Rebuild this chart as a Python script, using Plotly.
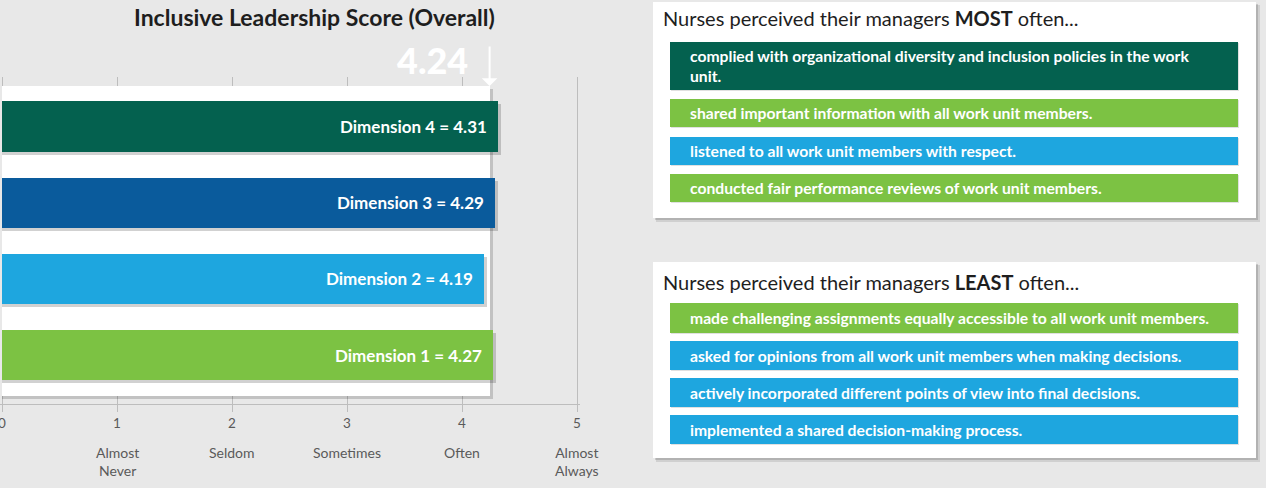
import plotly.graph_objects as go

# ---------------- data ----------------
categories = ["Dimension 1", "Dimension 2", "Dimension 3", "Dimension 4"]
scores = [4.27, 4.19, 4.29, 4.31]
overall_score = 4.24
tick_values = [0, 1, 2, 3, 4, 5]
scale_labels = ["", "Almost<br>Never", "Seldom", "Sometimes", "Often", "Almost<br>Always"]
chart_title = "Inclusive Leadership Score (Overall)"

most_header = "Nurses perceived their managers <b>MOST</b> often..."
most_items = [
    "complied with organizational diversity and inclusion policies in the work<br>unit.",
    "shared important information with all work unit members.",
    "listened to all work unit members with respect.",
    "conducted fair performance reviews of work unit members.",
]
least_header = "Nurses perceived their managers <b>LEAST</b> often..."
least_items = [
    "made challenging assignments equally accessible to all work unit members.",
    "asked for opinions from all work unit members when making decisions.",
    "actively incorporated different points of view into final decisions.",
    "implemented a shared decision-making process.",
]

# ---------------- styles ----------------
DARK_GREEN = "#04614F"
DARK_BLUE = "#0A5B9C"
LIGHT_BLUE = "#1EA6DF"
GREEN = "#7CC243"
BG = "#E8E8E8"
bar_colors = [GREEN, LIGHT_BLUE, DARK_BLUE, DARK_GREEN]
most_colors = [DARK_GREEN, GREEN, LIGHT_BLUE, GREEN]
least_colors = [GREEN, LIGHT_BLUE, LIGHT_BLUE, LIGHT_BLUE]
FONT = "Lato"

W, H = 1266, 488


def px(x):
    return x / W


def py(y):
    return 1 - y / H


# axis geometry (pixels per unit)
XU = 115.0
YU = 76.17
x0 = -2 / XU
xrange = [x0, x0 + 580 / XU]
yrange = [-0.643, 3.65]

ypos = list(range(len(categories)))
mid = (len(categories) - 1) / 2
bar_w = 0.66
overall_w = 4.07

fig = go.Figure()

# overall score (white backdrop bar) with shadow
fig.add_trace(go.Bar(
    x=[overall_score + 3 / XU], y=[mid - 3 / YU], width=[overall_w], orientation="h",
    marker=dict(color="rgba(0,0,0,0.16)", line=dict(width=0)), hoverinfo="skip", showlegend=False))
fig.add_trace(go.Bar(
    x=[overall_score], y=[mid], width=[overall_w], orientation="h",
    marker=dict(color="white", line=dict(width=0)), name="Overall", showlegend=False))

# dimension bars with shadows
fig.add_trace(go.Bar(
    x=[s + 3 / XU for s in scores], y=[p - 3 / YU for p in ypos], width=bar_w, orientation="h",
    marker=dict(color="rgba(0,0,0,0.18)", line=dict(width=0)), hoverinfo="skip", showlegend=False))
fig.add_trace(go.Bar(
    x=scores, y=ypos, width=bar_w, orientation="h",
    marker=dict(color=bar_colors, line=dict(width=0)),
    customdata=categories, hovertemplate="%{customdata} = %{x}<extra></extra>", showlegend=False))

annotations = []
for c, s, p in zip(categories, scores, ypos):
    annotations.append(dict(
        x=s, y=p, xref="x", yref="y", text=f"{c} = {s:.2f}", showarrow=False,
        xanchor="right", yanchor="middle", xshift=-9,
        font=dict(family=FONT, size=17, color="white", weight="bold")))

for v, lab in zip(tick_values, scale_labels):
    if lab:
        annotations.append(dict(
            x=v, y=py(442), xref="x", yref="paper", text=lab, showarrow=False,
            xanchor="center", yanchor="top",
            font=dict(family=FONT, size=14, color="#5A5A5A")))

# title
annotations.append(dict(
    x=px(314), y=py(17), xref="paper", yref="paper", text=chart_title,
    showarrow=False, xanchor="center", yanchor="middle",
    font=dict(family=FONT, size=23, color="#1E1E1E", weight="bold")))

# overall value + arrow
annotations.append(dict(
    x=overall_score, y=py(60), xref="x", yref="paper", text=f"{overall_score:.2f}",
    showarrow=False, xanchor="right", yanchor="middle", xshift=-20,
    font=dict(family=FONT, size=36, color="white", weight=900)))
annotations.append(dict(
    x=overall_score, y=py(86), xref="x", yref="paper", text="",
    showarrow=True, ax=0, ay=-41, axref="pixel", ayref="pixel",
    arrowcolor="white", arrowwidth=2, arrowhead=1, arrowsize=1.3))

shapes = []


def panel(top, bottom, header, header_y, items, colors, item_bounds):
    # shadow
    shapes.append(dict(type="rect", xref="paper", yref="paper",
                       x0=px(656), x1=px(1260), y0=py(bottom + 4), y1=py(top + 3),
                       fillcolor="rgba(0,0,0,0.10)", line=dict(width=0), layer="below"))
    shapes.append(dict(type="rect", xref="paper", yref="paper",
                       x0=px(655), x1=px(1258), y0=py(bottom + 2), y1=py(top + 2),
                       fillcolor="rgba(0,0,0,0.14)", line=dict(width=0), layer="below"))
    shapes.append(dict(type="rect", xref="paper", yref="paper",
                       x0=px(653), x1=px(1256), y0=py(bottom), y1=py(top),
                       fillcolor="white", line=dict(width=0), layer="below"))
    annotations.append(dict(
        x=px(661), y=py(header_y), xref="paper", yref="paper", text=header, showarrow=False,
        xanchor="left", yanchor="middle", font=dict(family=FONT, size=20, color="#1E1E1E")))
    for txt, col, (t, b) in zip(items, colors, item_bounds):
        shapes.append(dict(type="rect", xref="paper", yref="paper",
                           x0=px(671), x1=px(1239), y0=py(b + 1), y1=py(t + 1),
                           fillcolor="rgba(0,0,0,0.12)", line=dict(width=0), layer="below"))
        shapes.append(dict(type="rect", xref="paper", yref="paper",
                           x0=px(670), x1=px(1238), y0=py(b), y1=py(t),
                           fillcolor=col, line=dict(width=0), layer="below"))
        annotations.append(dict(
            x=px(688), y=py((t + b) / 2), xref="paper", yref="paper", text=txt,
            showarrow=False, xanchor="left", yanchor="middle", align="left",
            font=dict(family=FONT, size=15.7, color="white", weight="bold")))


panel(2, 218, most_header, 18, most_items, most_colors,
      [(42, 90), (99, 127), (137, 165), (174, 202)])
panel(262, 458, least_header, 282, least_items, least_colors,
      [(303, 333), (341, 370), (378, 407), (415, 444)])

fig.update_layout(
    width=W, height=H, margin=dict(l=0, r=0, t=0, b=0, autoexpand=False),
    paper_bgcolor=BG, plot_bgcolor="rgba(0,0,0,0)",
    barmode="overlay", bargap=0,
    xaxis=dict(domain=[0, px(580)], range=xrange, tickvals=tick_values, automargin=False,
               showgrid=True, gridcolor="#BDBDBD", gridwidth=1, zeroline=False,
               showline=True, linecolor="#BDBDBD", linewidth=1,
               ticks="outside", ticklen=7, tickcolor="#BDBDBD", ticklabeloverflow="allow",
               tickfont=dict(family=FONT, size=13.5, color="#5A5A5A"), fixedrange=True),
    yaxis=dict(domain=[py(404), py(77)], range=yrange, showticklabels=False, automargin=False,
               showgrid=False, zeroline=False, showline=False, fixedrange=True),
    annotations=annotations, shapes=shapes,
    font=dict(family=FONT),
)

fig.write_html("out.html")
